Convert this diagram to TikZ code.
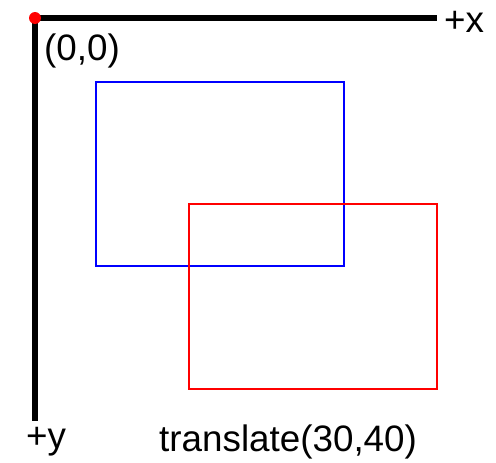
\documentclass[tikz,border=0pt]{standalone}
\usepackage{fontspec}
\setmainfont{Liberation Sans}
\begin{document}
\begin{tikzpicture}[x=1pt,y=-1pt,
  axis/.style={line width=5.5pt,black},
  box/.style={line width=2pt},
  lbl/.style={inner sep=0pt,font=\fontsize{36.8}{40}\selectfont}]
\useasboundingbox (0,0) rectangle (496,463);
\coordinate (o) at (35,18);
\coordinate (xe) at (437,18);
\coordinate (ye) at (35,421);
\draw[axis] (o) -- (xe);
\draw[axis] (o) -- (ye);
\fill[red] (o) circle[radius=6pt];
\node[lbl,anchor=west] (xl) at (444,22) {+x};
\node[lbl,anchor=west] (ol) at (44,51) {(0,0)};
\node[lbl,anchor=west] (yl) at (26,442) {+y};
\node[lbl,anchor=west] (tl) at (159,442) {translate(30,40)};
\draw[box,blue] (96,82) rectangle (344,266);
\draw[box,red] (189,204) rectangle (437,389);
\end{tikzpicture}
\end{document}
